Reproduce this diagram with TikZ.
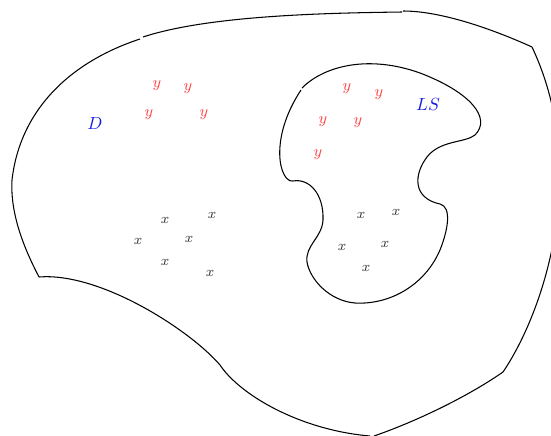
\documentclass[tikz,border=0pt]{standalone}
\usepackage{amssymb,amsmath}
\usepackage{tikz}
\definecolor{LRed}{rgb}{1,0.25,0.25}
\definecolor{LBlue}{rgb}{0.1,0.1,0.9}
\tikzset{
  ptx/.style={font=\footnotesize, text=black!80},
  pty/.style={font=\small, text=LRed},
  setname/.style={text=LBlue},
  rim/.style={line width=0.6pt}
}

\begin{document}
\begin{tikzpicture}[x=0.02cm, y=-0.02cm]
\useasboundingbox (0,0) rectangle (551,436);

% outer set D
\draw[rim] (140,39) .. controls (70,62) and (20,110) .. (12,180) .. controls (10,215) and (25,250) .. (39,277);
\draw[rim] (39,277) .. controls (100,272) and (190,330) .. (220,365) .. controls (240,395) and (300,430) .. (370,436);
\draw[rim] (374,436) .. controls (420,420) and (470,395) .. (503,372);
\draw[rim] (503,372) .. controls (545,310) and (590,170) .. (532,47);
\draw[rim] (532,47) .. controls (490,28) and (440,11) .. (403,11);
\draw[rim] (402,12) .. controls (330,13) and (210,15) .. (143,37);

% subset LS
\draw[rim] (302,88) .. controls (325,65) and (370,55) .. (420,73) .. controls (470,92) and (492,118) .. (475,135)
  .. controls (465,143) and (440,140) .. (427,157) .. controls (414,174) and (412,198) .. (440,204)
  .. controls (452,207) and (448,230) .. (440,250) .. controls (425,285) and (390,305) .. (355,303)
  .. controls (330,301) and (310,280) .. (307,262) .. controls (305,245) and (322,238) .. (323,220)
  .. controls (324,195) and (310,178) .. (293,181) .. controls (280,183) and (268,140) .. (301,90);

% labels
\node[setname] (lblD) at (95,123) {$D$};
\node[setname] (lblLS) at (428,104) {$LS$};

% points y
\node[pty] (y1) at (157,86) {$y$};
\node[pty] (y2) at (188,89) {$y$};
\node[pty] (y3) at (149,115) {$y$};
\node[pty] (y4) at (204,115) {$y$};
\node[pty] (y5) at (347,89) {$y$};
\node[pty] (y6) at (379,95) {$y$};
\node[pty] (y7) at (323,122) {$y$};
\node[pty] (y8) at (358,123) {$y$};
\node[pty] (y9) at (318,155) {$y$};

% points x
\node[ptx] (x1) at (165,220) {$x$};
\node[ptx] (x2) at (212,215) {$x$};
\node[ptx] (x3) at (138,241) {$x$};
\node[ptx] (x4) at (189,239) {$x$};
\node[ptx] (x5) at (165,262) {$x$};
\node[ptx] (x6) at (210,273) {$x$};
\node[ptx] (x7) at (361,215) {$x$};
\node[ptx] (x8) at (396,212) {$x$};
\node[ptx] (x9) at (342,247) {$x$};
\node[ptx] (x10) at (385,244) {$x$};
\node[ptx] (x11) at (366,268) {$x$};

\end{tikzpicture}
\end{document}
